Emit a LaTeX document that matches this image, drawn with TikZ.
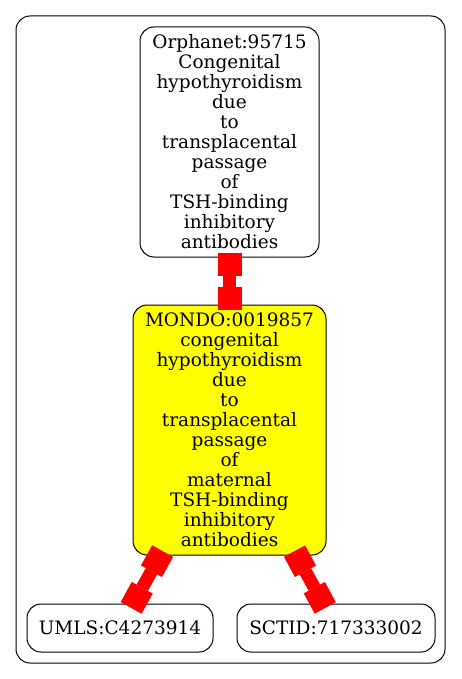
\documentclass[tikz,border=0pt]{standalone}
\usepackage{fontspec}
\setmainfont{DejaVu Serif}
\usetikzlibrary{arrows.meta}
\definecolor{boxyellow}{HTML}{FFFF00}
\definecolor{linkred}{HTML}{FF0000}
\begin{document}
\begin{tikzpicture}[x=1pt,y=-1pt,
  every node/.style={font=\fontsize{18.5}{20}\selectfont},
  nodebox/.style={draw=black, line width=1pt, rounded corners=14pt, align=center, inner sep=0pt},
  linktip/.tip={Square[length=23pt,width=24pt,line width=0pt]},
  link/.style={draw=linkred, fill=linkred, line width=13pt, linktip-linktip, shorten <=-5pt, shorten >=-5pt}]
\useasboundingbox (0,0) rectangle (461,679);
\draw[line width=1pt, rounded corners=14pt] (16,16) rectangle (445,663);
\node[nodebox, minimum width=179pt, minimum height=230pt] (orph) at (229.5,142)
  {Orphanet:95715\\Congenital\\hypothyroidism\\due\\to\\transplacental\\passage\\of\\TSH-binding\\inhibitory\\antibodies};
\node[nodebox, fill=boxyellow, minimum width=193pt, minimum height=250pt] (mondo) at (229.5,430)
  {MONDO:0019857\\congenital\\hypothyroidism\\due\\to\\transplacental\\passage\\of\\maternal\\TSH-binding\\inhibitory\\antibodies};
\node[nodebox, minimum width=186pt, minimum height=48pt] (umls) at (120,628) {UMLS:C4273914};
\node[nodebox, minimum width=198pt, minimum height=48pt] (sctid) at (336,628) {SCTID:717333002};
\draw[link] (orph) -- (mondo);
\draw[link] (mondo) -- (umls);
\draw[link] (mondo) -- (sctid);
\end{tikzpicture}
\end{document}
